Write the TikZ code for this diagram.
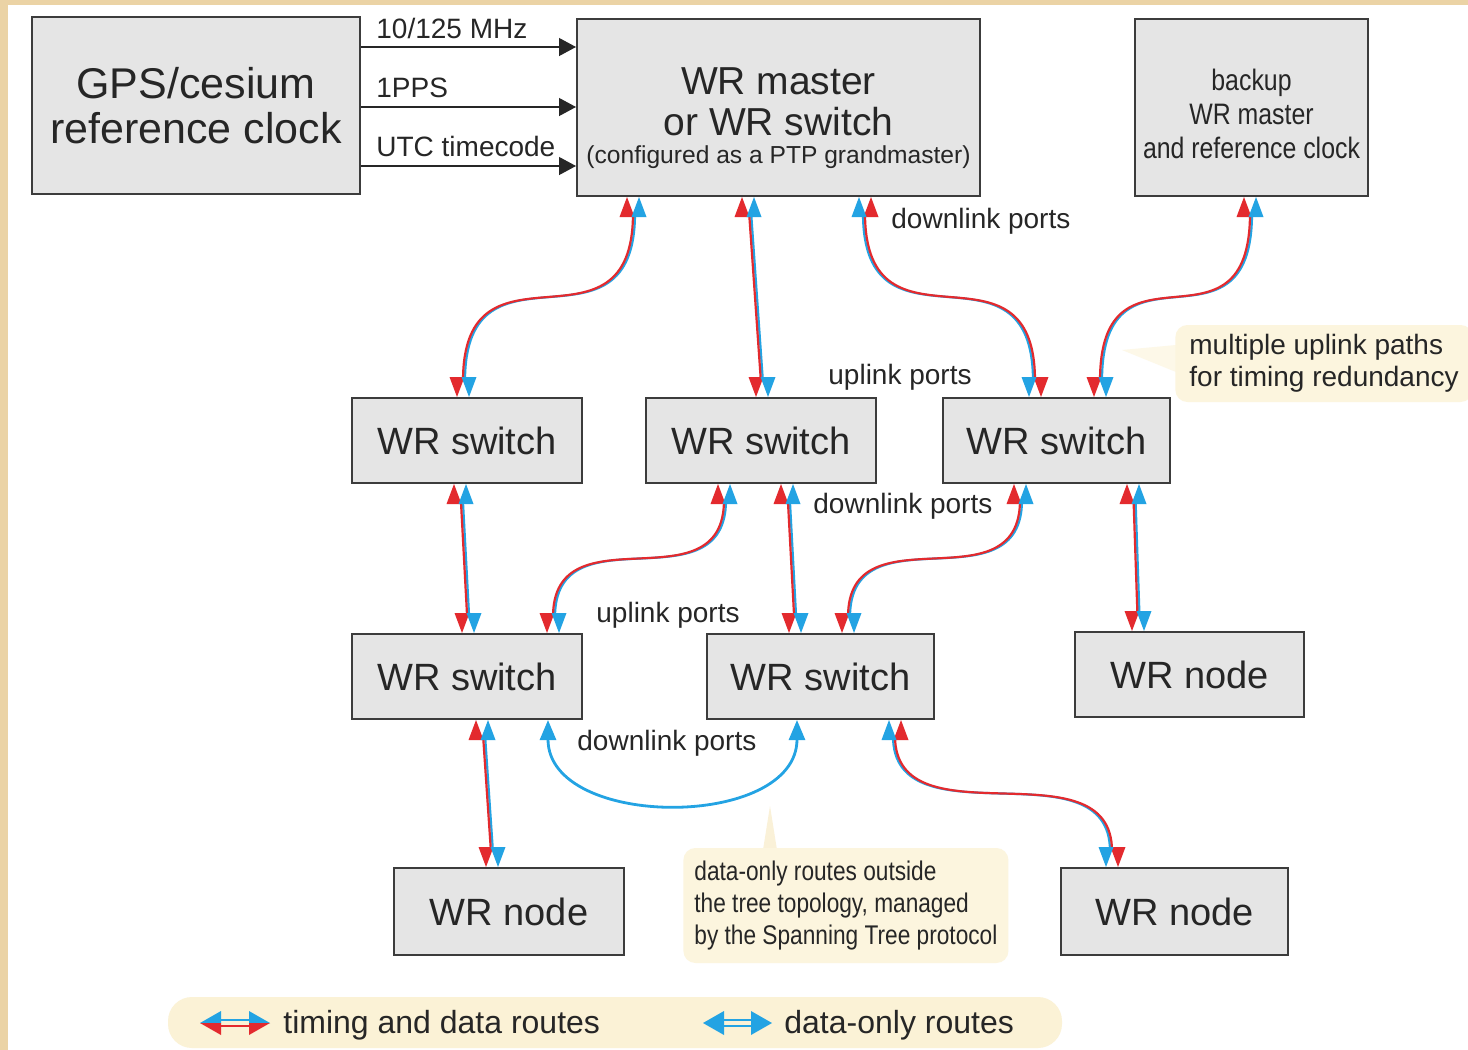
\documentclass[tikz,border=0pt]{standalone}
\usepackage{fontspec}
\setmainfont{Liberation Sans}
\newfontfamily\narrowfont[FakeStretch=0.84]{Liberation Sans}
\usetikzlibrary{arrows.meta}

\definecolor{boxfill}{HTML}{E5E5E5}
\definecolor{boxline}{HTML}{3C3C3C}
\definecolor{ink}{HTML}{262626}
\definecolor{tdred}{HTML}{E32A2E}
\definecolor{tdblue}{HTML}{23A3E3}
\definecolor{callfill}{HTML}{FCF5DE}
\definecolor{legfill}{HTML}{FBF2D6}
\definecolor{edgebeige}{HTML}{EBD3A5}

\begin{document}
\begin{tikzpicture}[
    x=0.5pt, y=-0.5pt,
    box/.style={rectangle, draw=boxline, fill=boxfill, line width=1pt, inner sep=2pt, text=ink, align=center},
    unitbox/.style={box, minimum width=115pt, minimum height=42.5pt, font=\fontsize{19}{22}\selectfont},
    lbl/.style={anchor=base west, inner sep=0pt, text=ink, font=\fontsize{14}{16}\selectfont},
    sig/.style={-{Triangle[length=8.5pt,width=9pt]}, draw=ink, line width=0.6pt},
    tdlink/.style={draw=tdred, line width=1.1pt, shorten <=8pt, shorten >=8pt,
        preaction={draw=tdblue, line width=1.1pt, transform canvas={xshift=1pt}}},
    tdlinkr/.style={draw=tdred, line width=1.1pt, shorten <=8pt, shorten >=8pt,
        preaction={draw=tdblue, line width=1.1pt, transform canvas={xshift=-1pt}}},
    datalink/.style={{Triangle[length=10pt,width=8pt]}-{Triangle[length=10pt,width=8pt]}, draw=tdblue, line width=1.4pt},
    callout/.style={fill=callfill, rounded corners=6pt, text=ink, align=left, anchor=west},
    headsup/.pic={
        \fill[tdred] (-6,0) -- (-13.5,20) -- (1.5,20) -- cycle;
        \fill[tdblue] (6,0) -- (-1.5,20) -- (13.5,20) -- cycle;
    },
    headsdown/.pic={
        \fill[tdred] (-6,0) -- (-13.5,-20) -- (1.5,-20) -- cycle;
        \fill[tdblue] (6,0) -- (-1.5,-20) -- (13.5,-20) -- cycle;
    }
]

\useasboundingbox (0,0) rectangle (1468,1050);
\fill[edgebeige] (0,0) rectangle (1468,1050);
\fill[white] (8,5) rectangle (1468,1050);

% Top row: reference clock, grandmaster, backup
\node[box, minimum width=164pt, minimum height=88.5pt, font=\fontsize{21.5}{22.5}\selectfont] (gps) at (196,105.5) {GPS/cesium\\reference clock};
\node[box, minimum width=201.5pt, minimum height=88.5pt, font=\fontsize{19.5}{20.5}\selectfont] (master) at (778.5,107.5)
    {\rule{0pt}{24pt}WR master\\or WR switch\\[-6.5pt]{\fontsize{12.3}{14}\selectfont (configured as a PTP grandmaster)}};
\node[box, minimum width=116.5pt, minimum height=88.5pt, font=\narrowfont\fontsize{14.8}{17}\selectfont] (backup) at (1251.5,107.5)
    {\rule{0pt}{17pt}backup\\WR master\\and reference clock};

% Second row
\node[unitbox] (s1) at (467,440.5) {WR switch};
\node[unitbox] (s2) at (761,440.5) {WR switch};
\node[unitbox, minimum width=113.5pt] (s3) at (1056.5,440.5) {WR switch};

% Third row
\node[unitbox] (s4) at (467,676.5) {WR switch};
\node[unitbox, minimum width=113.5pt] (s5) at (820.5,676.5) {WR switch};
\node[unitbox, minimum width=114.5pt] (n1) at (1189.5,674.5) {WR node};

% Bottom row
\node[unitbox, minimum height=43.5pt] (n2) at (509,911.5) {WR node};
\node[unitbox, minimum width=113.5pt, minimum height=43.5pt] (n3) at (1174.5,911.5) {WR node};

% Clock signals
\draw[sig] (gps.east |- 0,47) -- (master.west |- 0,47);
\draw[sig] (gps.east |- 0,107) -- (master.west |- 0,107);
\draw[sig] (gps.east |- 0,166) -- (master.west |- 0,166);
\node[lbl] (f10) at (376,38) {10/125 MHz};
\node[lbl] (pps) at (376,97) {1PPS};
\node[lbl] (utc) at (376,156) {UTC timecode};

% Port labels
\node[lbl] (dl1) at (891,228) {downlink ports};
\node[lbl] (ul1) at (828,384) {uplink ports};
\node[lbl] (dl2) at (813,513) {downlink ports};
\node[lbl] (ul2) at (596,622) {uplink ports};
\node[lbl] (dl3) at (577,750) {downlink ports};

% Port positions
\coordinate (m1) at (master.south -| 633,0);
\coordinate (m2) at (master.south -| 748,0);
\coordinate (m3) at (master.south -| 865,0);
\coordinate (b1) at (backup.south -| 1250,0);
\coordinate (s1u) at (s1.north -| 463,0);
\coordinate (s1d) at (s1.south -| 460,0);
\coordinate (s2u) at (s2.north -| 762,0);
\coordinate (s2d1) at (s2.south -| 724,0);
\coordinate (s2d2) at (s2.south -| 787,0);
\coordinate (s3u1) at (s3.north -| 1035,0);
\coordinate (s3u2) at (s3.north -| 1100,0);
\coordinate (s3d1) at (s3.south -| 1020,0);
\coordinate (s3d2) at (s3.south -| 1133,0);
\coordinate (s4u1) at (s4.north -| 468,0);
\coordinate (s4u2) at (s4.north -| 553,0);
\coordinate (s4d1) at (s4.south -| 482,0);
\coordinate (s4d2) at (s4.south -| 548,0);
\coordinate (s5u1) at (s5.north -| 795,0);
\coordinate (s5u2) at (s5.north -| 848,0);
\coordinate (s5d1) at (s5.south -| 797,0);
\coordinate (s5d2) at (s5.south -| 895,0);
\coordinate (n1u) at (n1.north -| 1138,0);
\coordinate (n2u) at (n2.north -| 492,0);
\coordinate (n3u) at (n3.north -| 1112,0);

% Callouts
\fill[callfill!70] (1176,345) -- (1122,350) -- (1176,372) -- cycle;
\node[callout, minimum width=146.5pt, minimum height=38.5pt, inner xsep=7pt,
    font=\fontsize{14}{16}\selectfont] (redund) at (1175,363.5)
    {multiple uplink paths\\for timing redundancy};
\fill[callfill!90!edgebeige] (770,806) -- (763,850) -- (777,850) -- cycle;
\node[callout, minimum width=162.5pt, minimum height=57.5pt, inner xsep=5pt,
    font=\narrowfont\fontsize{13.5}{16}\selectfont] (stp) at (683,905.5)
    {data-only routes outside\\the tree topology, managed\\by the Spanning Tree protocol};

% Timing and data routes
\draw[tdlink] (m1) .. controls +(0,170) and +(0,-170) .. (s1u);
\draw[tdlink] (m2) -- (s2u);
\draw[tdlinkr] (m3) .. controls +(0,170) and +(0,-170) .. (s3u1);
\draw[tdlink] (b1) .. controls +(0,170) and +(0,-170) .. (s3u2);
\draw[tdlink] (s1d) -- (s4u1);
\draw[tdlink] (s2d1) .. controls +(0,125) and +(0,-125) .. (s4u2);
\draw[tdlink] (s2d2) -- (s5u1);
\draw[tdlink] (s3d1) .. controls +(0,125) and +(0,-125) .. (s5u2);
\draw[tdlink] (s3d2) -- (n1u);
\draw[tdlink] (s4d1) -- (n2u);
\draw[tdlinkr] (s5d2) .. controls +(0,125) and +(0,-125) .. (n3u);

\pic at (m1) {headsup};
\pic at (m2) {headsup};
\pic[xscale=-1] at (m3) {headsup};
\pic at (b1) {headsup};
\pic at (s1d) {headsup};
\pic at (s2d1) {headsup};
\pic at (s2d2) {headsup};
\pic at (s3d1) {headsup};
\pic at (s3d2) {headsup};
\pic at (s4d1) {headsup};
\pic[xscale=-1] at (s5d2) {headsup};
\pic at (s1u) {headsdown};
\pic at (s2u) {headsdown};
\pic[xscale=-1] at (s3u1) {headsdown};
\pic at (s3u2) {headsdown};
\pic at (s4u1) {headsdown};
\pic at (s4u2) {headsdown};
\pic at (s5u1) {headsdown};
\pic at (s5u2) {headsdown};
\pic at (n1u) {headsdown};
\pic at (n2u) {headsdown};
\pic[xscale=-1] at (n3u) {headsdown};

% Data-only route
\draw[datalink] (s4d2) .. controls +(0,110) and +(0,110) .. (s5d1);

% Legend
\node[fill=legfill, rounded corners=12pt, minimum width=447pt, minimum height=25.5pt] (legend) at (615,1022.5) {};
\fill[tdblue] (200,1023) -- (221,1011) -- (221,1023) -- cycle;
\fill[tdred] (200,1023) -- (221,1035) -- (221,1023) -- cycle;
\fill[tdblue] (270,1023) -- (249,1011) -- (249,1023) -- cycle;
\fill[tdred] (270,1023) -- (249,1035) -- (249,1023) -- cycle;
\draw[tdblue, line width=1pt] (220,1020) -- (250,1020);
\draw[tdred, line width=1pt] (220,1026) -- (250,1026);
\node[lbl, font=\fontsize{16}{18}\selectfont] (legtd) at (283,1033) {timing and data routes};
\fill[tdblue] (703,1023) -- (724,1011) -- (724,1035) -- cycle;
\fill[tdblue] (772,1023) -- (751,1011) -- (751,1035) -- cycle;
\draw[tdblue, line width=1pt] (723,1020) -- (752,1020);
\draw[tdblue, line width=1pt] (723,1026) -- (752,1026);
\node[lbl, font=\fontsize{16}{18}\selectfont] (legdo) at (784,1033) {data-only routes};

\end{tikzpicture}
\end{document}
